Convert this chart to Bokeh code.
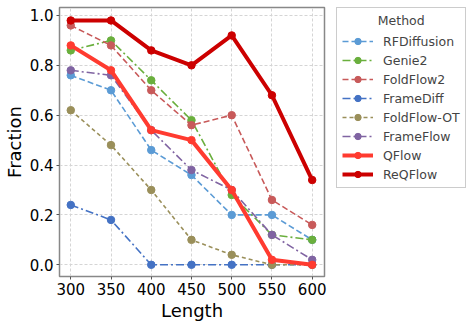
from bokeh.plotting import figure
from bokeh.models import Legend, Range1d, FixedTicker, CustomJSTickFormatter
from bokeh.layouts import row
from bokeh.embed import file_html
from bokeh.resources import INLINE

lengths = [300, 350, 400, 450, 500, 550, 600]
methods = ["RFDiffusion", "Genie2", "FoldFlow2", "FrameDiff", "FoldFlow-OT", "FrameFlow", "QFlow", "ReQFlow"]
rfdiffusion = [0.76, 0.70, 0.46, 0.36, 0.20, 0.20, 0.10]
genie2 = [0.86, 0.90, 0.74, 0.58, 0.28, 0.12, 0.10]
foldflow2 = [0.96, 0.88, 0.70, 0.56, 0.60, 0.26, 0.16]
framediff = [0.24, 0.18, 0.00, 0.00, 0.00, 0.00, 0.00]
foldflow_ot = [0.62, 0.48, 0.30, 0.10, 0.04, 0.00, 0.00]
frameflow = [0.78, 0.76, 0.54, 0.38, 0.30, 0.12, 0.02]
qflow = [0.88, 0.78, 0.54, 0.50, 0.30, 0.02, 0.00]
reqflow = [0.98, 0.98, 0.86, 0.80, 0.92, 0.68, 0.34]
y_ticks = [0.0, 0.2, 0.4, 0.6, 0.8, 1.0]
legend_title = "Method"

series = [rfdiffusion, genie2, foldflow2, framediff, foldflow_ot, frameflow, qflow, reqflow]
colors = ["#5b9bd5", "#6aaf3d", "#c85a5a", "#4472c4", "#9a8f5a", "#8064a2", "#ff3b30", "#cc0000"]
dashes = ["6 3", "8 3 2 3", "6 3", "8 3 2 3", "4 3", "8 3 2 3", "solid", "solid"]
widths = [1.6, 1.6, 1.6, 1.6, 1.6, 1.6, 4, 4]

FONT = "DejaVu Sans"

p = figure(frame_width=265, frame_height=269, output_backend="svg", toolbar_location=None,
           x_range=Range1d(286, 615.3), y_range=Range1d(-0.047, 1.032),
           min_border_top=7, min_border_left=0, min_border_right=12, min_border_bottom=0)

# legend-only figure placed to the right; its renderers hold the same data but
# lie outside its view range, so only their legend glyphs are visible
lf = figure(width=138, height=318, output_backend="svg", toolbar_location=None,
            x_range=Range1d(0, 1), y_range=Range1d(5, 6),
            x_axis_location=None, y_axis_location=None,
            min_border_top=7, min_border_left=0, min_border_right=0, min_border_bottom=0)
lf.grid.visible = False
lf.outline_line_color = None

items = []
for name, ys, c, d, w in zip(methods, series, colors, dashes, widths):
    p.line(lengths, ys, line_color=c, line_dash=d, line_width=w)
    p.scatter(lengths, ys, size=7.5, fill_color=c, line_color=c)
    r1 = lf.line(lengths, ys, line_color=c, line_dash=d, line_width=w)
    r2 = lf.scatter(lengths, ys, size=7.5, fill_color=c, line_color=c)
    items.append((name, [r1, r2]))

legend = Legend(items=items, title="\u00a0" * 9 + legend_title, location="top_left")
legend.title_text_font = FONT
legend.title_text_font_size = "12.5px"
legend.title_text_font_style = "normal"
legend.title_standoff = 5
legend.label_text_font = FONT
legend.label_text_font_size = "12.5px"
legend.label_standoff = 10
legend.spacing = 3
legend.label_height = 16
legend.glyph_height = 16
legend.glyph_width = 31
legend.padding = 5
legend.margin = 0
legend.border_line_color = "#cccccc"
legend.border_line_width = 1
legend.border_line_alpha = 1
legend.background_fill_alpha = 1
lf.add_layout(legend, "center")

p.xaxis.ticker = FixedTicker(ticks=lengths)
p.yaxis.ticker = FixedTicker(ticks=y_ticks)
p.yaxis.formatter = CustomJSTickFormatter(code="return tick.toFixed(1);")

for ax in (p.xaxis[0], p.yaxis[0]):
    ax.major_label_text_font = FONT
    ax.major_label_text_font_size = "15px"
    ax.major_label_text_color = "#000000"
    ax.axis_label_text_font = FONT
    ax.axis_label_text_font_size = "18px"
    ax.axis_label_text_font_style = "normal"
    ax.axis_label_text_color = "#000000"
    ax.axis_line_color = None
    ax.major_tick_line_color = "#555555"
    ax.major_tick_out = 3
    ax.major_tick_in = 0
    ax.minor_tick_line_color = None
    ax.major_label_standoff = 3
    ax.axis_label_standoff = 2

p.xaxis.axis_label = "Length"
p.yaxis.axis_label = "Fraction"

p.xgrid.grid_line_dash = "3 2"
p.ygrid.grid_line_dash = "3 2"
p.xgrid.grid_line_color = "#d5d5d5"
p.ygrid.grid_line_color = "#d5d5d5"
p.outline_line_color = "#888888"
p.outline_line_width = 1.5

layout = row(p, lf)
open("out.html", "w").write(file_html(layout, INLINE))
